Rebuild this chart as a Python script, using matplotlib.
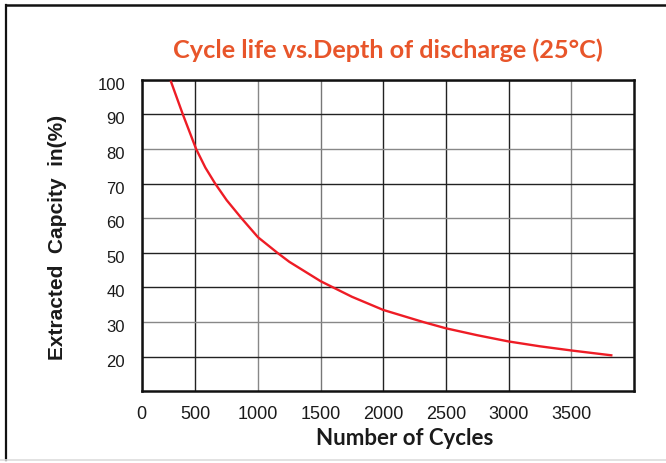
import numpy as np
import matplotlib.pyplot as plt
import matplotlib.transforms as mtransforms
from matplotlib.lines import Line2D

# ── Datos ────────────────────────────────────────────────────────────────────
ciclos    = [306, 400, 506, 580, 658, 750, 868, 1000, 1155, 1250, 1500, 1600,
             1750, 2000, 2320, 2500, 2750, 3000, 3250, 3500, 3820]
capacidad = [99.4, 90, 80, 74.6, 70, 65.2, 60, 54.5, 50, 47.4, 41.8, 40,
             37.3, 33.5, 30, 28.2, 26.2, 24.4, 23.0, 21.8, 20.4]

x_ticks   = [72, 500, 1000, 1500, 2000, 2500, 3000, 3500]
x_labels  = ['0', '500', '1000', '1500', '2000', '2500', '3000', '3500']
y_ticks   = [20, 30, 40, 50, 60, 70, 80, 90, 100]

# tono de cada línea de rejilla (la original alterna negro y gris)
x_grid_col = ['#222222', '#222222', '#888888', '#777777', '#222222',
              '#222222', '#222222', '#888888']
y_grid_col = ['#222222', '#888888', '#222222', '#222222', '#888888',
              '#222222', '#888888', '#222222', '#222222']

# ── Figura ────────────────────────────────────────────────────────────────────
fig = plt.figure(figsize=(6.66, 4.64), dpi=100)
ax = fig.add_axes([0.2128, 0.1545, 0.9517 - 0.2128, 0.8261 - 0.1545])

ax.plot(ciclos, capacidad, color='#EE1C25', linewidth=1.7, zorder=3)

ax.set_xlim(72, 4000)
ax.set_ylim(10, 100)
ax.set_xticks(x_ticks)
ax.set_xticklabels(x_labels)
ax.set_yticks(y_ticks)
ax.tick_params(length=0, colors='#1a1a1a')
ax.tick_params(axis='y', pad=12, labelsize=12)
ax.tick_params(axis='x', pad=10, labelsize=13)
for lab in ax.get_xticklabels() + ax.get_yticklabels():
    lab.set_family('Liberation Sans')

# las etiquetas del eje y quedan algo por debajo de su línea
desplaza = mtransforms.ScaledTranslation(0, -3 / 100, fig.dpi_scale_trans)
for lab in ax.get_yticklabels():
    lab.set_transform(lab.get_transform() + desplaza)

ax.grid(True, linewidth=1.0)
ax.set_axisbelow(True)
for gl, c in zip(ax.get_xgridlines(), x_grid_col):
    gl.set_color(c)
for gl, c in zip(ax.get_ygridlines(), y_grid_col):
    gl.set_color(c)
for s in ax.spines.values():
    s.set_linewidth(1.8)
    s.set_color('#111111')

# Títulos
fig.text(0.582, 0.892, 'Cycle life vs.Depth of discharge (25°C)',
         color='#E8552A', fontsize=18.2, fontweight='bold', family='Lato',
         ha='center', va='center')
fig.text(0.608, 0.056, 'Number of Cycles', fontsize=16, fontweight='bold',
         family='Lato', color='#1a1a1a', ha='center', va='center')
fig.text(0.086, 0.488, 'Extracted  Capcity  in(%)', rotation=90,
         fontsize=15, fontweight='bold', family='Liberation Sans',
         color='#1a1a1a', ha='center', va='center')

# Marco exterior
fig.add_artist(Line2D([0.009, 0.009], [0.006, 0.988], color='#111111',
                      linewidth=1.6, transform=fig.transFigure))
fig.add_artist(Line2D([0.009, 1.0], [0.988, 0.988], color='#111111',
                      linewidth=1.8, transform=fig.transFigure))
fig.add_artist(Line2D([0.0, 1.0], [0.006, 0.006], color='#dddddd',
                      linewidth=1.2, transform=fig.transFigure))

plt.savefig('out.png', dpi=100)
